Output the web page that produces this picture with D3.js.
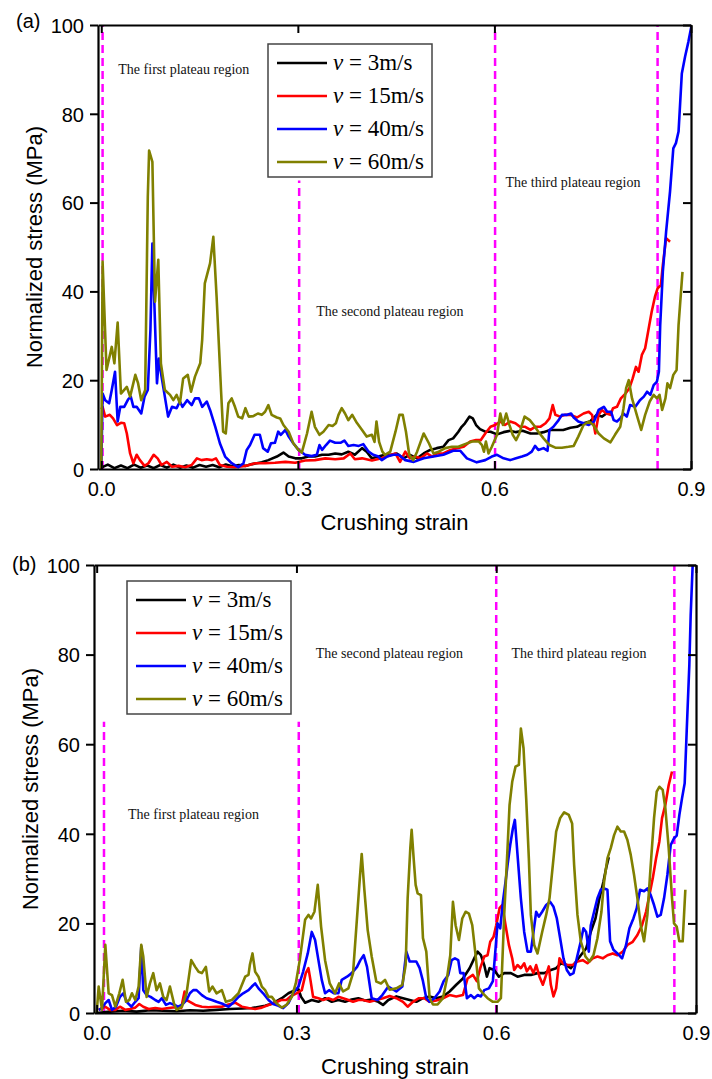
<!DOCTYPE html>
<html>
<head>
<meta charset="utf-8">
<script src="https://cdn.jsdelivr.net/npm/d3@7"></script>
<style>
  body { margin: 0; background: #fff; }
  svg { display: block; }
</style>
</head>
<body>
<svg id="chart" width="712" height="1079"></svg>
<script>
// ---- data: [crushing strain, normalized stress (MPa)] ----
const speeds = ["3", "15", "40", "60"];
const colors = ["#000000", "#ff0000", "#0000ff", "#808000"];
const xTicks = [0.0, 0.3, 0.6, 0.9];
const yTicks = [0, 20, 40, 60, 80, 100];

const aV3 = [[0,0.3],[0.01,1.0],[0.02,0.2],[0.03,0.8],[0.04,0.2],[0.05,1.0],[0.06,0.3],[0.07,0.8],[0.08,0.2],[0.09,0.9],[0.1,0.3],[0.11,1.0],[0.12,0.3],[0.13,0.8],[0.14,0.3],[0.15,0.9],[0.16,0.5],[0.17,0.9],[0.18,0.4],[0.19,1.0],[0.2,0.6],[0.21,0.9],[0.22,0.7],[0.23,1.1],[0.245,1.5],[0.255,2],[0.268,2.8],[0.278,3.7],[0.286,2.8],[0.296,2.4],[0.306,2.4],[0.316,2.8],[0.326,2.8],[0.337,3.2],[0.347,3.2],[0.357,3.5],[0.367,3.3],[0.377,3.9],[0.387,3.2],[0.398,4.7],[0.405,3.9],[0.413,2.4],[0.423,2.8],[0.433,3.2],[0.443,3.2],[0.451,3.5],[0.461,2.4],[0.471,3.2],[0.482,2.4],[0.492,3.5],[0.502,4.3],[0.512,4.7],[0.522,5],[0.53,6.5],[0.537,6.9],[0.545,8.4],[0.55,9.5],[0.555,10.3],[0.562,11.8],[0.567,11.4],[0.572,9.9],[0.578,9],[0.586,8.4],[0.594,8.4],[0.604,7.8],[0.614,8.3],[0.624,8.6],[0.633,8.3],[0.643,8.6],[0.655,8],[0.665,8],[0.675,8.3],[0.685,8.8],[0.695,8.8],[0.705,8.8],[0.716,9.3],[0.726,9.5],[0.736,10.3],[0.746,10.7],[0.756,12.2],[0.764,11.8],[0.771,12.5]];

const aV15 = [[0,13.5],[0.002,14],[0.006,11.8],[0.013,12.2],[0.018,11.4],[0.024,9.9],[0.03,10.4],[0.035,10.3],[0.039,8],[0.044,3.5],[0.049,1.3],[0.054,3.2],[0.059,2],[0.066,0.7],[0.072,1.3],[0.08,3.2],[0.086,2.4],[0.092,0.9],[0.1,1.6],[0.108,0.5],[0.118,0.7],[0.128,0.4],[0.138,0.9],[0.146,2.4],[0.153,2],[0.161,2.2],[0.169,2],[0.175,2.4],[0.181,0.9],[0.192,0.5],[0.204,0.4],[0.22,0.7],[0.235,1.3],[0.25,1.3],[0.265,1.4],[0.281,1.6],[0.296,1.4],[0.311,1.9],[0.326,2],[0.342,2.4],[0.357,2.2],[0.37,2.4],[0.38,3.5],[0.387,2.2],[0.398,2.4],[0.413,1.9],[0.428,2.4],[0.443,3.2],[0.449,3.5],[0.456,1.6],[0.464,3.9],[0.471,2.4],[0.479,2.8],[0.487,2.4],[0.497,3.5],[0.505,2.8],[0.512,3.5],[0.522,3.5],[0.533,4.3],[0.543,4.7],[0.553,5],[0.563,6.2],[0.572,6.5],[0.579,6.5],[0.586,8],[0.594,9.5],[0.601,9.9],[0.609,10.7],[0.616,9.9],[0.624,10.7],[0.632,10.3],[0.639,9.5],[0.647,9.5],[0.655,8.8],[0.662,9.5],[0.67,9.5],[0.678,10.3],[0.684,11.4],[0.689,14.4],[0.693,12.2],[0.7,11.8],[0.708,12.2],[0.716,12.2],[0.726,11.6],[0.736,12.5],[0.744,12.9],[0.749,12.2],[0.754,8],[0.759,12.2],[0.764,13.3],[0.771,12.5],[0.777,12.2],[0.781,13.7],[0.787,14],[0.793,15.9],[0.8,17],[0.806,18.2],[0.811,20.4],[0.816,23],[0.82,21.9],[0.825,25.7],[0.83,27.2],[0.835,31.3],[0.84,35.4],[0.845,38.8],[0.849,40.7],[0.854,41.4],[0.857,45.9],[0.862,52],[0.868,51.2]];

const aV40 = [[0,0],[0.002,17],[0.006,15.5],[0.012,14.8],[0.016,17.8],[0.021,21.9],[0.025,10.7],[0.029,14],[0.035,14],[0.041,15.7],[0.045,16.3],[0.049,14],[0.054,14],[0.061,12.5],[0.066,16.3],[0.071,17.8],[0.075,31.3],[0.078,50.8],[0.081,37.3],[0.085,19.3],[0.088,24.9],[0.092,20.8],[0.097,16.3],[0.102,11.8],[0.108,14],[0.115,13.7],[0.12,15.2],[0.124,14],[0.131,15.5],[0.138,14.4],[0.143,15.9],[0.149,15.9],[0.154,14],[0.161,15.2],[0.166,13.3],[0.174,9.5],[0.181,5.8],[0.189,2.8],[0.199,1.3],[0.209,0.4],[0.217,1.3],[0.222,4.3],[0.227,5.4],[0.234,7.7],[0.242,7.7],[0.247,4.7],[0.254,3.9],[0.259,5.8],[0.265,5.9],[0.27,8.4],[0.274,7.7],[0.281,8.8],[0.286,7.3],[0.293,5.8],[0.301,4.3],[0.311,3.2],[0.321,2.9],[0.329,3.2],[0.333,5.4],[0.337,4.3],[0.343,5.4],[0.349,6.4],[0.357,5.9],[0.365,5.9],[0.371,6.4],[0.377,5.2],[0.385,5.4],[0.393,5.2],[0.4,5.6],[0.408,3.9],[0.415,3.2],[0.423,2.8],[0.428,2],[0.436,2.8],[0.446,3.2],[0.454,3.2],[0.464,2],[0.477,1.6],[0.492,2.4],[0.507,2.8],[0.522,3.2],[0.537,4.1],[0.548,4.1],[0.558,2.4],[0.573,1.5],[0.586,2],[0.596,2.8],[0.604,3.2],[0.614,2.4],[0.624,2],[0.633,2.4],[0.642,2.8],[0.65,3.2],[0.657,3.9],[0.662,5.2],[0.667,4.3],[0.675,4.7],[0.681,4.1],[0.684,8.8],[0.69,9.5],[0.698,11],[0.703,12.2],[0.711,12.2],[0.717,12.5],[0.721,11.6],[0.728,10.7],[0.736,10.3],[0.744,9.9],[0.752,10.7],[0.759,13.3],[0.767,14],[0.772,12.9],[0.778,12.9],[0.782,11],[0.787,10.7],[0.792,11.4],[0.797,12.5],[0.802,11.8],[0.807,14.4],[0.815,14],[0.822,15.5],[0.828,16.3],[0.833,17.4],[0.838,16.7],[0.843,18.9],[0.848,19.7],[0.851,21.9],[0.853,32.4],[0.857,44.4],[0.862,53.4],[0.868,62.5],[0.873,72.2],[0.877,73.4],[0.881,76],[0.886,89.1],[0.891,92.9],[0.896,96.2],[0.901,100]];

const aV60 = [[0,0],[0.002,46.7],[0.008,22.3],[0.016,27.5],[0.02,23.8],[0.025,33],[0.03,17],[0.039,18.5],[0.044,16.3],[0.052,21.2],[0.056,19.4],[0.061,15.5],[0.067,17.8],[0.071,61.3],[0.073,71.7],[0.078,69.2],[0.082,37.7],[0.087,47.1],[0.091,23.8],[0.097,17.8],[0.105,16.7],[0.11,15.5],[0.115,16.7],[0.12,14.8],[0.125,20.4],[0.132,21.2],[0.137,17.4],[0.143,20.8],[0.151,23.8],[0.154,29.1],[0.158,41.8],[0.166,46.3],[0.171,52.3],[0.176,38.8],[0.183,17],[0.186,8.4],[0.19,8],[0.194,14.8],[0.199,15.9],[0.204,14],[0.209,11.8],[0.215,11.4],[0.22,13.7],[0.225,11.8],[0.232,11.9],[0.239,12.5],[0.245,12.2],[0.25,12.9],[0.255,14.4],[0.26,12.2],[0.268,11.6],[0.273,11.4],[0.278,9.9],[0.286,8.4],[0.293,5.8],[0.301,4.3],[0.306,3.7],[0.314,8],[0.321,12.9],[0.326,9.5],[0.333,7.7],[0.339,8.4],[0.347,9.9],[0.353,9.7],[0.358,10.3],[0.362,12.2],[0.367,13.7],[0.372,12.5],[0.377,11],[0.383,12.2],[0.39,10.4],[0.398,8.8],[0.405,7.3],[0.413,7.7],[0.417,6.1],[0.42,10.7],[0.424,6.1],[0.429,3.9],[0.433,3.2],[0.441,3.9],[0.449,8.4],[0.455,12.2],[0.46,12.2],[0.465,8.4],[0.47,3.2],[0.476,2.0],[0.482,3.9],[0.492,8.0],[0.5,5.8],[0.507,3.5],[0.515,3.9],[0.525,4.7],[0.535,5.0],[0.545,5.0],[0.555,5.6],[0.566,6.2],[0.576,6.2],[0.581,5.4],[0.584,3.9],[0.587,6.2],[0.591,3.5],[0.596,5.0],[0.604,7.7],[0.609,12.5],[0.613,9.9],[0.618,12.5],[0.623,9.9],[0.628,7.7],[0.633,6.5],[0.638,8.0],[0.646,11.8],[0.654,11],[0.66,9.9],[0.667,8.4],[0.675,6.9],[0.684,5.4],[0.693,4.8],[0.703,4.8],[0.713,5.0],[0.721,5.2],[0.728,7.3],[0.736,9.9],[0.744,10.7],[0.751,9.9],[0.759,8.0],[0.767,6.9],[0.777,6.0],[0.784,7.7],[0.792,9.5],[0.797,13.7],[0.801,18.2],[0.805,20],[0.81,15.9],[0.818,11.8],[0.824,8.8],[0.83,12.2],[0.837,15.2],[0.843,16.7],[0.848,15.9],[0.852,16.7],[0.856,13.3],[0.861,15.9],[0.864,19.3],[0.868,18.2],[0.873,21.2],[0.878,22.3],[0.881,32.4],[0.887,44.4]];

const bV3 = [[0,0],[0.02,0.3],[0.04,0.5],[0.06,0.3],[0.08,0.6],[0.1,0.5],[0.12,0.4],[0.14,0.6],[0.16,0.5],[0.18,0.7],[0.2,0.9],[0.22,1.0],[0.233,1.1],[0.253,1.6],[0.265,2.2],[0.278,3.3],[0.288,4.4],[0.298,5.1],[0.303,5.3],[0.307,3.6],[0.313,2.3],[0.323,2.9],[0.333,2.5],[0.343,3.3],[0.353,2.5],[0.363,2.9],[0.373,2.5],[0.383,3],[0.393,3.3],[0.403,2.8],[0.413,3],[0.423,2.5],[0.43,1.8],[0.438,2.9],[0.45,3.7],[0.46,3.3],[0.47,2.9],[0.48,2.5],[0.49,3.3],[0.5,3.7],[0.51,3.3],[0.52,3.7],[0.53,4.8],[0.54,6.3],[0.55,7.7],[0.56,10],[0.567,12.2],[0.572,13.7],[0.577,12.9],[0.582,10.7],[0.586,8.1],[0.59,10],[0.597,9.6],[0.604,8.1],[0.612,8.9],[0.622,8.9],[0.632,8.1],[0.642,8.5],[0.652,8.5],[0.662,8.9],[0.672,8.9],[0.682,9.6],[0.69,10],[0.697,11.1],[0.705,10.7],[0.712,10],[0.72,11.5],[0.727,12.9],[0.735,14.4],[0.742,18.1],[0.749,21.1],[0.755,25.6],[0.761,29.3],[0.765,32.3],[0.769,34.8]];

const bV15 = [[0.003,0.7],[0.013,1.4],[0.02,0.7],[0.028,0.7],[0.035,1.4],[0.043,0.7],[0.05,0.9],[0.058,1.2],[0.064,2],[0.07,1.4],[0.078,0.9],[0.088,1.1],[0.098,0.9],[0.108,1.1],[0.118,1.3],[0.127,1.1],[0.132,4.8],[0.135,2.9],[0.14,2.5],[0.148,1.8],[0.158,1.4],[0.168,1.3],[0.178,1.4],[0.188,1.4],[0.198,1.9],[0.208,2.3],[0.218,1.4],[0.228,1.1],[0.238,0.9],[0.248,1.2],[0.258,1.8],[0.268,2.3],[0.277,2.9],[0.285,2.9],[0.292,3.8],[0.3,4.4],[0.308,5.1],[0.314,8.9],[0.318,10],[0.321,7.4],[0.325,3.6],[0.333,3.3],[0.34,2.9],[0.348,3.3],[0.355,2.9],[0.363,3.6],[0.37,3.3],[0.378,2.9],[0.385,2.5],[0.393,2.9],[0.4,2.9],[0.41,2.5],[0.42,2.9],[0.43,3.3],[0.44,3.8],[0.45,3.3],[0.46,2.5],[0.467,1.4],[0.475,2.5],[0.484,3.3],[0.492,3.3],[0.5,2.5],[0.51,2.8],[0.52,3.3],[0.53,4],[0.54,3.7],[0.55,4],[0.557,7.7],[0.565,8.5],[0.571,7.1],[0.576,10],[0.582,12.6],[0.587,12.9],[0.591,15.9],[0.596,17],[0.6,19.6],[0.605,23.4],[0.609,24.1],[0.614,19.6],[0.619,15.2],[0.624,12.2],[0.627,9.6],[0.632,10.7],[0.637,10],[0.642,11.1],[0.646,9.3],[0.651,10.4],[0.656,8.9],[0.66,10.7],[0.665,8.1],[0.67,6.3],[0.675,8.5],[0.679,10.4],[0.682,6.3],[0.686,3.7],[0.69,5.5],[0.695,12.2],[0.7,11.1],[0.707,10.7],[0.715,10.7],[0.722,11.5],[0.73,11.8],[0.737,11.1],[0.745,12.2],[0.752,12.6],[0.76,12.2],[0.767,12.9],[0.775,13.3],[0.782,12.9],[0.79,13.7],[0.797,15.2],[0.805,15.9],[0.812,17.4],[0.819,19.6],[0.825,22.6],[0.83,26.3],[0.835,30],[0.84,34.5],[0.845,38.3],[0.849,43.5],[0.854,46.5],[0.859,50.9],[0.864,53.9]];

const bV40 = [[0.003,0.7],[0.008,1.1],[0.013,2.2],[0.018,2.9],[0.023,0.7],[0.029,1.4],[0.035,3.6],[0.04,4.4],[0.045,2.5],[0.052,1.4],[0.058,2.5],[0.063,3.3],[0.067,14.9],[0.07,5.1],[0.075,4],[0.081,3.6],[0.088,2.9],[0.093,2.5],[0.098,3.3],[0.104,1.8],[0.11,2.2],[0.117,1.8],[0.122,1.4],[0.128,1.8],[0.135,2.9],[0.14,4.4],[0.145,5.1],[0.15,5.1],[0.158,4],[0.165,3.3],[0.173,2.9],[0.18,2.5],[0.19,2],[0.198,1.4],[0.205,2.3],[0.213,3.6],[0.22,4.4],[0.228,5.1],[0.233,5.9],[0.238,6.6],[0.243,5.5],[0.25,4.4],[0.258,2.9],[0.265,2],[0.273,1.6],[0.28,1.1],[0.288,2.2],[0.295,4.4],[0.303,5.9],[0.31,9.2],[0.317,13.3],[0.323,18.1],[0.328,16.3],[0.333,11.8],[0.338,7.4],[0.343,4.4],[0.349,5.1],[0.356,4.4],[0.363,4.4],[0.368,7.4],[0.376,8.1],[0.383,8.9],[0.391,10.3],[0.396,11.8],[0.401,12.9],[0.406,10.3],[0.413,3.3],[0.422,2.9],[0.429,4],[0.438,5.9],[0.45,4.8],[0.459,5.9],[0.465,13.7],[0.47,11.5],[0.48,11.5],[0.485,10],[0.49,7.1],[0.495,3.3],[0.5,2.5],[0.507,3.3],[0.515,4.8],[0.521,7.1],[0.528,8.5],[0.533,11.8],[0.538,12.2],[0.543,11.8],[0.546,8.9],[0.551,8.9],[0.556,3.3],[0.562,4],[0.567,3.3],[0.572,4],[0.577,3.7],[0.582,5.1],[0.589,5.5],[0.595,7.1],[0.599,14.4],[0.602,20],[0.606,18.9],[0.61,24.8],[0.614,29.3],[0.617,33],[0.621,37.5],[0.625,41.2],[0.628,43.1],[0.632,35.3],[0.637,25.6],[0.642,18.1],[0.647,13.7],[0.652,13.7],[0.656,18.1],[0.66,22.6],[0.664,21.5],[0.669,22.6],[0.675,24.1],[0.681,24.8],[0.686,23.7],[0.691,21.1],[0.696,16.7],[0.701,12.2],[0.706,9.6],[0.711,8.5],[0.716,8.9],[0.721,12.2],[0.727,16],[0.731,18.9],[0.735,18.1],[0.739,13.7],[0.742,19.6],[0.747,22.6],[0.752,25.6],[0.757,27.5],[0.762,27.8],[0.767,27.5],[0.771,16],[0.776,14.1],[0.782,13.3],[0.789,12.2],[0.795,15.2],[0.8,18.9],[0.806,21.1],[0.811,23.4],[0.816,27.5],[0.822,27.2],[0.827,27.8],[0.832,26.3],[0.837,24.1],[0.842,21.5],[0.847,21.9],[0.852,25.6],[0.857,30.8],[0.862,37.5],[0.867,39],[0.871,39.6],[0.875,44.2],[0.879,47.9],[0.883,51.3],[0.886,62.8],[0.89,77.7],[0.892,88.8],[0.895,100]];

const bV60 = [[0,0],[0.003,5.9],[0.008,0.7],[0.013,15.2],[0.018,4.4],[0.023,4],[0.028,1.4],[0.034,4.4],[0.039,7.4],[0.044,2.5],[0.049,2.9],[0.053,4.4],[0.058,2.9],[0.063,5.9],[0.067,15.2],[0.07,12.6],[0.075,3.6],[0.08,6.6],[0.085,8.9],[0.09,5.1],[0.095,6.6],[0.1,3.6],[0.105,2.9],[0.11,5.9],[0.116,2.2],[0.12,0.7],[0.128,1.4],[0.135,4.4],[0.142,11.8],[0.148,10.3],[0.153,9.2],[0.158,8.9],[0.164,10.3],[0.169,4.8],[0.174,5.9],[0.18,4.4],[0.188,5.1],[0.194,2.5],[0.203,2.9],[0.213,4.4],[0.223,8.1],[0.228,8.5],[0.23,10.7],[0.234,13.3],[0.238,9.2],[0.243,8.1],[0.248,5.9],[0.253,5.1],[0.258,3.6],[0.263,3.6],[0.27,2.2],[0.278,1.2],[0.285,1.8],[0.293,3.6],[0.299,6.6],[0.305,11.8],[0.313,20.8],[0.318,21.9],[0.322,21.1],[0.327,22.6],[0.332,28.6],[0.337,19.3],[0.343,11.8],[0.35,6.6],[0.358,4.4],[0.364,6.6],[0.37,4.8],[0.378,5.5],[0.385,8.9],[0.39,19.3],[0.395,29.7],[0.398,35.5],[0.402,27.5],[0.407,18.5],[0.413,12.6],[0.42,7],[0.427,6.6],[0.433,7.4],[0.44,5.2],[0.45,5.5],[0.459,6.3],[0.464,10.7],[0.467,25.6],[0.471,36.8],[0.473,40.9],[0.476,34.5],[0.479,28.6],[0.482,26.7],[0.487,26.3],[0.49,16.7],[0.495,13.7],[0.5,3.3],[0.505,1.9],[0.512,1.9],[0.52,3.3],[0.526,7.7],[0.531,12.9],[0.535,24.8],[0.539,19.6],[0.544,16.3],[0.549,21.1],[0.554,22.6],[0.559,22.2],[0.564,19.6],[0.569,12.9],[0.574,5.5],[0.58,4.4],[0.587,3.3],[0.595,2.5],[0.602,2.5],[0.607,3.3],[0.612,21.9],[0.617,36.8],[0.62,46.4],[0.624,51.6],[0.629,55],[0.634,55.4],[0.637,63.5],[0.641,59.1],[0.645,47.9],[0.649,34.5],[0.652,21.9],[0.657,15.2],[0.662,13.3],[0.669,18.1],[0.675,21.9],[0.68,25.6],[0.685,33],[0.69,40.5],[0.696,43.5],[0.702,44.8],[0.709,44.2],[0.714,42.3],[0.717,33],[0.722,21.9],[0.727,16],[0.734,12.6],[0.74,11.5],[0.746,12.9],[0.752,16.7],[0.758,22.6],[0.762,29.3],[0.767,34.5],[0.772,36.8],[0.777,39.7],[0.782,41.6],[0.787,40.5],[0.792,40.5],[0.797,38.6],[0.802,35.3],[0.807,30.8],[0.812,25.6],[0.817,19.6],[0.822,16],[0.827,21.9],[0.832,33],[0.837,43.5],[0.841,49.4],[0.845,50.5],[0.85,49.8],[0.854,45.7],[0.859,36.8],[0.864,25.6],[0.867,20],[0.871,19.3],[0.875,16],[0.88,16],[0.884,27.5]];

// region annotations and dashed boundaries, in data coordinates
const aRegions = [["The first plateau region", 0.026, 89], ["The second plateau region", 0.328, 34.5], ["The third plateau region", 0.617, 63.5]];
const bRegions = [["The first plateau region", 0.047, 43.3], ["The second plateau region", 0.329, 79.2], ["The third plateau region", 0.623, 79.2]];
const aBounds = [[0.002, 100], [0.302, 65], [0.601, 100], [0.849, 100]];
const bBounds = [[0.011, 65], [0.3035, 65], [0.6, 100], [0.8675, 100]];

const svg = d3.select("#chart");

function drawPanel(cfg) {
  const x = d3.scaleLinear().domain(cfg.xDomain).range([cfg.left, cfg.right]);
  const y = d3.scaleLinear().domain([0, 100]).range([cfg.bottom, cfg.top]);
  const g = svg.append("g");
  const clipId = "clip" + cfg.tag;

  g.append("clipPath").attr("id", clipId)
    .append("rect")
    .attr("x", cfg.left).attr("y", cfg.top - 2)
    .attr("width", cfg.right - cfg.left).attr("height", cfg.bottom - cfg.top + 2);

  // dashed region boundaries
  g.selectAll(".bound").data(cfg.bounds).enter().append("line")
    .attr("x1", d => x(d[0])).attr("x2", d => x(d[0]))
    .attr("y1", y(0)).attr("y2", d => y(d[1]))
    .attr("stroke", "#ff00ff").attr("stroke-width", 2.5)
    .attr("stroke-dasharray", "8,5");

  // curves
  const line = d3.line().x(d => x(d[0])).y(d => y(d[1]));
  cfg.series.forEach((s, i) => {
    g.append("path").datum(s)
      .attr("d", line)
      .attr("fill", "none")
      .attr("stroke", colors[i])
      .attr("stroke-width", 2.6)
      .attr("stroke-linejoin", "round")
      .attr("clip-path", "url(#" + clipId + ")");
  });

  // region labels
  g.selectAll(".region").data(cfg.regions).enter().append("text")
    .attr("x", d => x(d[1])).attr("y", d => y(d[2]))
    .attr("font-family", "Liberation Serif, Times New Roman, serif")
    .attr("font-size", 14)
    .attr("fill", "#111")
    .text(d => d[0]);

  // axes
  const fmt = d3.format(".1f");
  const bottomAxis = g.append("g")
    .attr("transform", `translate(0,${cfg.bottom})`)
    .call(d3.axisBottom(x).tickValues(xTicks).tickFormat(fmt).tickSizeInner(-8).tickSizeOuter(0).tickPadding(18));
  const topAxis = g.append("g")
    .attr("transform", `translate(0,${cfg.top})`)
    .call(d3.axisTop(x).tickValues(xTicks).tickFormat("").tickSizeInner(-8).tickSizeOuter(0));
  const leftAxis = g.append("g")
    .attr("transform", `translate(${cfg.left},0)`)
    .call(d3.axisLeft(y).tickValues(yTicks).tickSizeInner(8).tickSizeOuter(0).tickPadding(6));
  const rightAxis = g.append("g")
    .attr("transform", `translate(${cfg.right},0)`)
    .call(d3.axisRight(y).tickValues(yTicks).tickFormat("").tickSizeInner(-8).tickSizeOuter(0));

  [bottomAxis, topAxis, leftAxis, rightAxis].forEach(a => {
    a.select(".domain").attr("stroke", "#000").attr("stroke-width", 2.2);
    a.selectAll(".tick line").attr("stroke", "#000").attr("stroke-width", 2);
    a.selectAll(".tick text")
      .attr("font-family", "Liberation Sans, Arial, sans-serif")
      .attr("font-size", 20).attr("fill", "#000");
  });
  bottomAxis.selectAll(".tick text").attr("dy", "0.45em");
  leftAxis.selectAll(".tick text").attr("dy", "0.36em");

  // axis titles
  g.append("text")
    .attr("x", (cfg.left + cfg.right) / 2).attr("y", cfg.bottom + 61)
    .attr("text-anchor", "middle")
    .attr("font-family", "Liberation Sans, Arial, sans-serif")
    .attr("font-size", 22)
    .text("Crushing strain");
  g.append("text")
    .attr("transform", `translate(${cfg.left - 56},${(cfg.top + cfg.bottom) / 2}) rotate(-90)`)
    .attr("text-anchor", "middle")
    .attr("font-family", "Liberation Sans, Arial, sans-serif")
    .attr("font-size", 22)
    .text("Normalized stress (MPa)");

  g.append("text")
    .attr("x", cfg.tagX).attr("y", cfg.tagY)
    .attr("font-family", "Liberation Sans, Arial, sans-serif")
    .attr("font-size", 20)
    .text("(" + cfg.tag + ")");

  // legend
  const lg = g.append("g").attr("transform", `translate(${cfg.legend[0]},${cfg.legend[1]})`);
  lg.append("rect")
    .attr("x", 0).attr("y", 0).attr("width", 164).attr("height", 133)
    .attr("fill", "#fff").attr("stroke", "#444").attr("stroke-width", 1.5);
  speeds.forEach((v, i) => {
    const row = lg.append("g").attr("transform", `translate(0,${19 + i * 33})`);
    row.append("line").attr("x1", 9).attr("x2", 59).attr("y1", 0).attr("y2", 0)
      .attr("stroke", colors[i]).attr("stroke-width", 2.6);
    const t = row.append("text").attr("x", 65).attr("y", 7)
      .attr("font-family", "Liberation Serif, Times New Roman, serif")
      .attr("font-size", 23);
    t.append("tspan").attr("font-style", "italic").text("v");
    t.append("tspan").text(" = " + v + "m/s");
  });
}

drawPanel({
  tag: "a", xDomain: [-0.005, 0.9], left: 98, right: 691, top: 25, bottom: 469,
  series: [aV3, aV15, aV40, aV60], regions: aRegions, bounds: aBounds,
  legend: [268, 44], tagX: 16, tagY: 28
});

drawPanel({
  tag: "b", xDomain: [-0.004, 0.9], left: 94, right: 696, top: 565, bottom: 1013,
  series: [bV3, bV15, bV40, bV60], regions: bRegions, bounds: bBounds,
  legend: [127, 581], tagX: 12, tagY: 571
});
</script>
</body>
</html>
